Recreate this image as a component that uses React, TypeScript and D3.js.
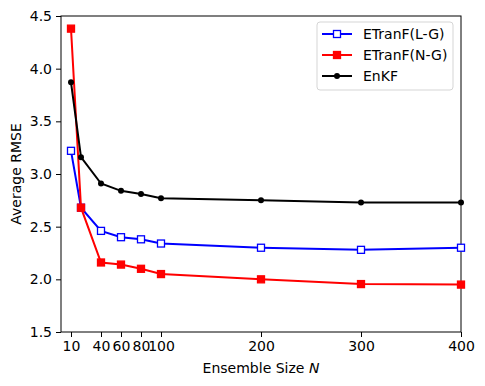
import { useRef, useEffect } from "react";
import * as d3 from "d3";

const ensembleSizes = [10, 20, 40, 60, 80, 100, 200, 300, 400];
const etranfLG = [3.22, 2.68, 2.46, 2.4, 2.38, 2.34, 2.3, 2.28, 2.3];
const etranfNG = [4.38, 2.68, 2.16, 2.14, 2.1, 2.05, 2.0, 1.955, 1.95];
const enkf = [3.87, 3.16, 2.91, 2.84, 2.81, 2.77, 2.75, 2.73, 2.73];
const xTicks = [10, 40, 60, 80, 100, 200, 300, 400];
const yTicks = [1.5, 2.0, 2.5, 3.0, 3.5, 4.0, 4.5];

const seriesList = [
	{ name: "ETranF(L-G)", values: etranfLG, color: "#0000ff", marker: "openSquare" },
	{ name: "ETranF(N-G)", values: etranfNG, color: "#ff0000", marker: "square" },
	{ name: "EnKF", values: enkf, color: "#000000", marker: "dot" },
];

export default function App() {
	const ref = useRef<HTMLDivElement>(null);

	useEffect(() => {
		const width = 485;
		const height = 386;
		const margin = { top: 16, right: 24, bottom: 54, left: 61 };
		const font = "DejaVu Sans, sans-serif";
		const fs = 14;

		d3.select(ref.current).selectAll("*").remove();

		const svg = d3
			.select(ref.current)
			.append("svg")
			.attr("width", width)
			.attr("height", height)
			.style("display", "block");

		// ---- Scales ----
		const x = d3.scaleLinear().domain([0, 400]).range([margin.left, width - margin.right]);
		const y = d3.scaleLinear().domain([1.5, 4.5]).range([height - margin.bottom, margin.top]);

		// ---- Axes ----
		const xAxis = svg
			.append("g")
			.attr("transform", `translate(0,${height - margin.bottom})`)
			.call(d3.axisBottom(x).tickValues(xTicks).tickSize(5).tickPadding(4).tickFormat(d3.format("d")));

		const yAxis = svg
			.append("g")
			.attr("transform", `translate(${margin.left},0)`)
			.call(d3.axisLeft(y).tickValues(yTicks).tickSize(5).tickPadding(4).tickFormat(d3.format(".1f")));

		[xAxis, yAxis].forEach((g) => {
			g.select(".domain").remove();
			g.selectAll("line").attr("stroke", "#000").attr("stroke-width", 1);
			g.selectAll("text").attr("font-family", font).attr("font-size", fs).attr("fill", "#000");
		});

		// frame
		svg.append("rect")
			.attr("x", margin.left)
			.attr("y", margin.top)
			.attr("width", width - margin.left - margin.right)
			.attr("height", height - margin.top - margin.bottom)
			.attr("fill", "none")
			.attr("stroke", "#000")
			.attr("stroke-width", 1);

		// ---- Axis labels ----
		const xLabel = svg
			.append("text")
			.attr("x", (margin.left + width - margin.right) / 2)
			.attr("y", height - 13)
			.attr("text-anchor", "middle")
			.attr("font-family", font)
			.attr("font-size", fs);
		xLabel.append("tspan").text("Ensemble Size ");
		xLabel.append("tspan").attr("font-style", "italic").text("N");

		svg.append("text")
			.attr("transform", "rotate(-90)")
			.attr("x", -(margin.top + height - margin.bottom) / 2)
			.attr("y", 21)
			.attr("text-anchor", "middle")
			.attr("font-family", font)
			.attr("font-size", fs)
			.text("Average RMSE");

		// ---- Lines & markers ----
		const line = d3
			.line<number>()
			.x((_, i) => x(ensembleSizes[i]))
			.y((d) => y(d));

		const drawMarker = (g: any, m: string, color: string, cx: number, cy: number) => {
			if (m === "dot") {
				g.append("circle").attr("cx", cx).attr("cy", cy).attr("r", 3).attr("fill", color);
			} else {
				const s = 7;
				g.append("rect")
					.attr("x", cx - s / 2)
					.attr("y", cy - s / 2)
					.attr("width", s)
					.attr("height", s)
					.attr("fill", m === "openSquare" ? "#fff" : color)
					.attr("stroke", color)
					.attr("stroke-width", 1.3);
			}
		};

		seriesList.forEach((s) => {
			const g = svg.append("g");
			g.append("path")
				.attr("d", line(s.values))
				.attr("fill", "none")
				.attr("stroke", s.color)
				.attr("stroke-width", 2);
			s.values.forEach((v, i) => drawMarker(g, s.marker, s.color, x(ensembleSizes[i]), y(v)));
		});

		// ---- Legend ----
		const lg = svg.append("g").attr("transform", "translate(317,22)");
		lg.append("rect")
			.attr("width", 136)
			.attr("height", 68)
			.attr("rx", 3)
			.attr("fill", "#fff")
			.attr("fill-opacity", 0.8)
			.attr("stroke", "#d5d5d5");
		seriesList.forEach((s, i) => {
			const cy = 12 + i * 21;
			lg.append("line")
				.attr("x1", 5)
				.attr("x2", 35)
				.attr("y1", cy)
				.attr("y2", cy)
				.attr("stroke", s.color)
				.attr("stroke-width", 2);
			drawMarker(lg, s.marker, s.color, 20, cy);
			lg.append("text")
				.attr("x", 46)
				.attr("y", cy + 5)
				.attr("font-family", font)
				.attr("font-size", fs)
				.text(s.name);
		});
	}, []);

	return <div ref={ref} style={{ margin: -8 }} />;
}
